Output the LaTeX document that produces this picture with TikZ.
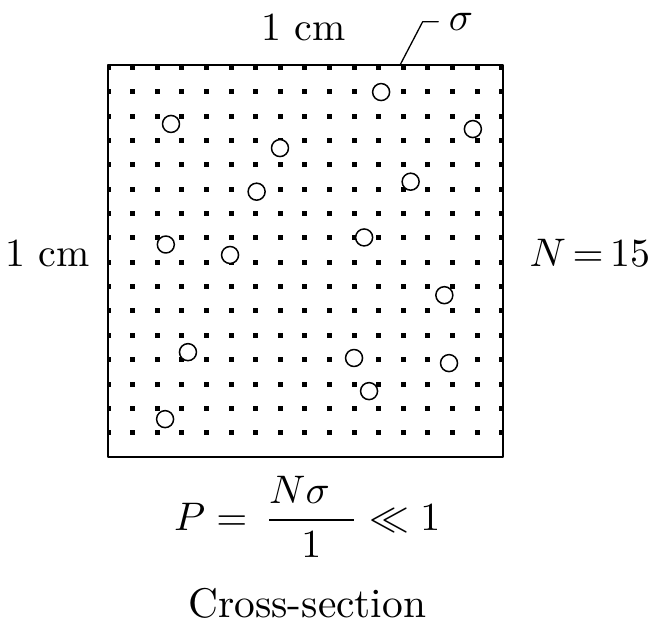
\documentclass[tikz,border=0pt]{standalone}
\usepackage{amsmath}
\usepackage{amssymb}
\usepackage{tikz}

\begin{document}
\begin{tikzpicture}[
			x=24.6bp, y=24.35bp,
			every node/.style={inner sep=0pt},
			lbl/.style={scale=4},
			particle/.style={circle, draw, fill=white, line width=1.5bp, minimum size=17bp},
			line cap=round,
			line join=round
			]
			\useasboundingbox (-4.39,-7.02) rectangle (22.11,18.77);
			
			% Dots
			\begin{scope}
				\clip (0,0) rectangle (16.06,16.1);
				\foreach \x in {0,1,...,16}
				\foreach \y in {1,2,...,16}
				\fill (\x,\y) +(-2.5bp,-2.5bp) rectangle +(2.5bp,2.5bp);
			\end{scope}
			
			% Sheet
			\draw[line width=1.6bp] (0,0) rectangle (16.06,16.1);
			
			% Particles
			\foreach \x/\y [count=\k] in {11.10/14.99, 2.56/13.68, 14.83/13.47, 6.99/12.69,
				12.30/11.31, 6.04/10.90, 2.35/8.73, 10.41/9.02, 4.96/8.30, 13.67/6.65,
				3.25/4.31, 10.0/4.07, 13.86/3.86, 10.61/2.71, 2.32/1.56}
			\node[particle] (p\k) at (\x,\y) {};
			
			% Labels
			\node[lbl, anchor=base] (top) at (7.95,17.12) {1 cm};
			\node[lbl, anchor=base east] (left) at (-0.73,7.82) {1 cm};
			\node[lbl, anchor=base west] (count) at (17.1,7.82) {$N\mkern-2mu=\mkern-2mu15$};
			\node[lbl, anchor=base west] (sigma) at (13.82,17.5) {$\sigma$};
			
			% Leader to sigma
			\coordinate (foot) at (11.87,16.1);
			\coordinate (kink) at (12.79,17.88);
			\coordinate (tip) at (13.42,17.88);
			\draw[line width=1.3bp] (foot) -- (kink) -- (tip);
			
			% Probability
			\node[lbl, anchor=base] (prob) at (8.1,-3.0) {$P = \hspace{0.15em}\dfrac{N\sigma\hspace{0.6em}}{1} \ll 1$};
			\node[lbl, scale=1.04, anchor=base] (caption) at (8.1,-6.6) {Cross-section};
		\end{tikzpicture}
\end{document}
